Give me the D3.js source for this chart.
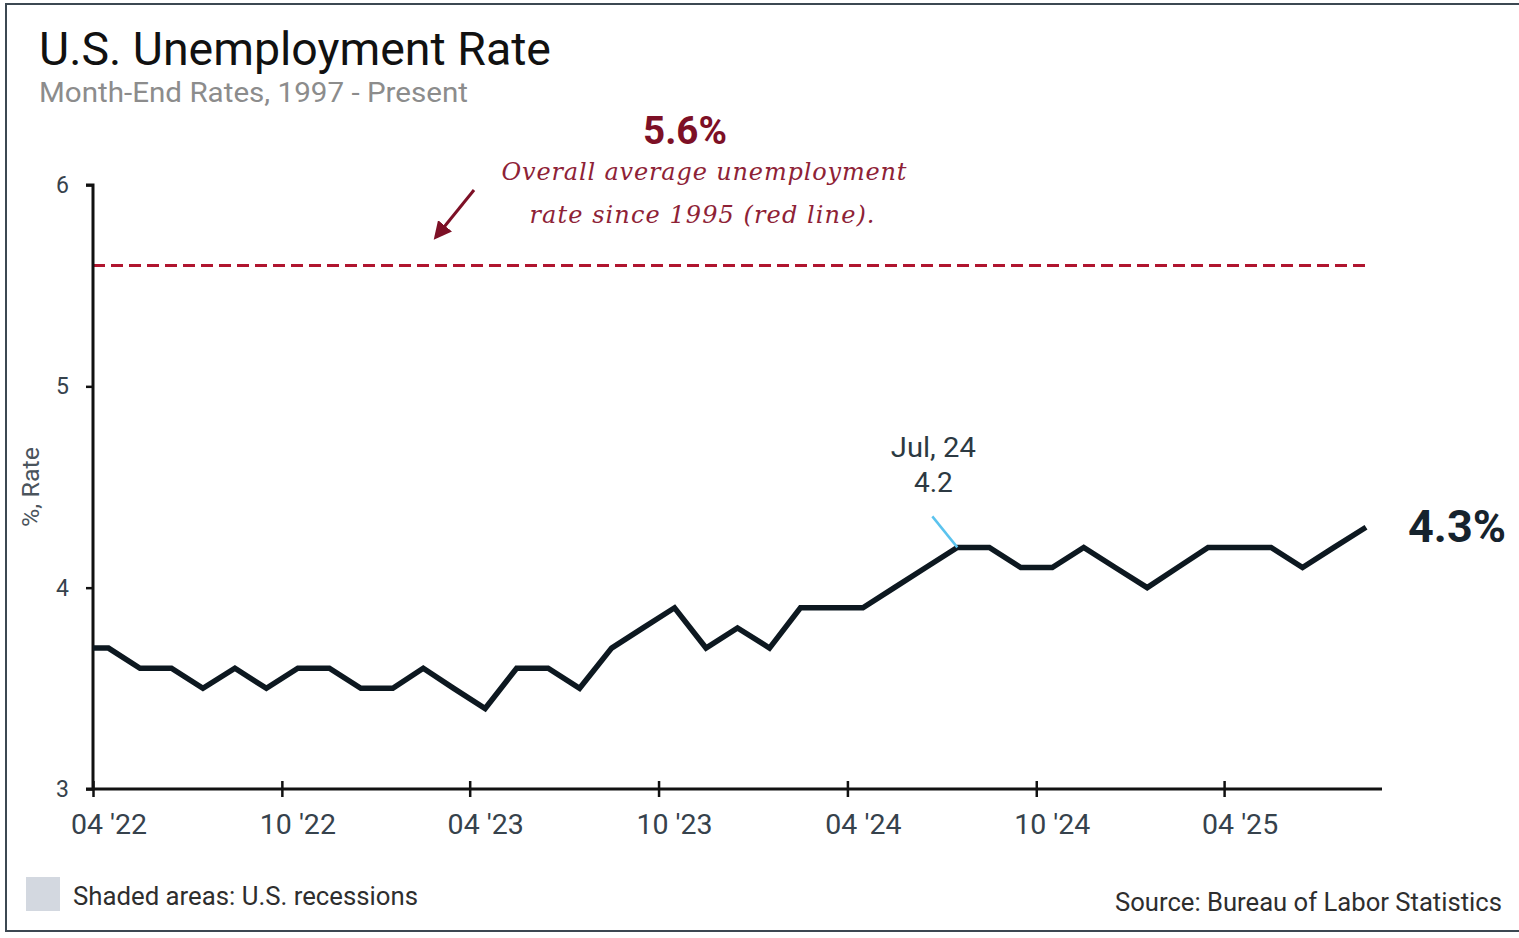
<!DOCTYPE html>
<html>
<head>
<meta charset="utf-8">
<script src="https://cdn.jsdelivr.net/npm/d3@7/dist/d3.min.js"></script>
<style>
  html, body { margin: 0; padding: 0; background: #fff; }
  svg { display: block; font-family: Roboto, "Noto Sans", sans-serif; }
</style>
</head>
<body>
<svg id="chart" width="1519" height="938"></svg>
<script>
// Monthly unemployment rate (%), Mar 2022 - Aug 2025
const months = [
  "2022-03","2022-04","2022-05","2022-06","2022-07","2022-08","2022-09","2022-10","2022-11","2022-12",
  "2023-01","2023-02","2023-03","2023-04","2023-05","2023-06","2023-07","2023-08","2023-09","2023-10","2023-11","2023-12",
  "2024-01","2024-02","2024-03","2024-04","2024-05","2024-06","2024-07","2024-08","2024-09","2024-10","2024-11","2024-12",
  "2025-01","2025-02","2025-03","2025-04","2025-05","2025-06","2025-07","2025-08"
];
const rates = [
  3.7, 3.7, 3.6, 3.6, 3.5, 3.6, 3.5, 3.6, 3.6, 3.5,
  3.5, 3.6, 3.5, 3.4, 3.6, 3.6, 3.5, 3.7, 3.8, 3.9, 3.7, 3.8,
  3.7, 3.9, 3.9, 3.9, 4.0, 4.1, 4.2, 4.2, 4.1, 4.1, 4.2, 4.1,
  4.0, 4.1, 4.2, 4.2, 4.2, 4.1, 4.2, 4.3
];
const longRunAverage = 5.6;
const yTicks = [3, 4, 5, 6];
const xTickMonths = ["2022-04","2022-10","2023-04","2023-10","2024-04","2024-10","2025-04"];
const highlightMonth = "2024-07";
const axisStart = "2022-04";
const axisEnd = "2025-09";

const parseMonth = d3.utcParse("%Y-%m");
const midMonth = m => {
  const s = parseMonth(m), e = d3.utcMonth.offset(s, 1);
  return new Date((+s + +e) / 2);
};
const data = months.map((m, i) => ({ month: m, date: midMonth(m), value: rates[i] }));

const svg = d3.select("#chart");

// outer frame
svg.append("rect")
  .attr("x", 6).attr("y", 4).attr("width", 1530).attr("height", 927)
  .attr("fill", "none").attr("stroke", "#3c4852").attr("stroke-width", 2);

const plotL = 93, plotR = 1382, plotT = 185, plotB = 789;
const x = d3.scaleUtc().domain([parseMonth(axisStart), parseMonth(axisEnd)]).range([plotL, plotR]);
const y = d3.scaleLinear().domain([3, 6]).range([plotB, plotT]);

// titles
svg.append("text").attr("x", 39).attr("y", 65)
  .attr("font-size", 47).attr("fill", "#111")
  .attr("textLength", 512).attr("lengthAdjust", "spacingAndGlyphs")
  .text("U.S. Unemployment Rate");
svg.append("text").attr("x", 39).attr("y", 102)
  .attr("font-size", 27).attr("fill", "#8c8c8c")
  .attr("textLength", 429).attr("lengthAdjust", "spacingAndGlyphs")
  .text("Month-End Rates, 1997 - Present");

// clip for series
svg.append("clipPath").attr("id", "plot")
  .append("rect").attr("x", plotL).attr("y", plotT - 20).attr("width", plotR - plotL).attr("height", plotB - plotT + 20);

// average reference line
svg.append("line")
  .attr("x1", plotL).attr("x2", x(data[data.length - 1].date))
  .attr("y1", y(longRunAverage)).attr("y2", y(longRunAverage))
  .attr("stroke", "#b0152f").attr("stroke-width", 3)
  .attr("stroke-dasharray", "12,6");

// y axis
const yAxis = d3.axisLeft(y).tickValues(yTicks).tickSize(7).tickPadding(17).tickFormat(d3.format("d"));
const gy = svg.append("g").attr("transform", `translate(${plotL},0)`).call(yAxis);
gy.select(".domain").attr("stroke", "#111").attr("stroke-width", 3).attr("d", `M-7,${plotT}H0V${plotB}`);
gy.selectAll(".tick line").attr("stroke", "#111").attr("stroke-width", 2.5);
gy.selectAll(".tick text").attr("font-size", 23).attr("fill", "#36424c").attr("font-family", "Roboto");

// x axis
const halfMonth = x(midMonth(axisStart)) - x(parseMonth(axisStart));
const xAxis = d3.axisBottom(x).tickValues(xTickMonths.map(parseMonth)).tickSize(8).tickPadding(17)
  .tickFormat(d3.utcFormat("%m '%y"));
const gx = svg.append("g").attr("transform", `translate(0,${plotB})`).call(xAxis);
gx.select(".domain").attr("stroke", "#111").attr("stroke-width", 3).attr("d", `M${plotL - 7},0H${plotR}`);
gx.selectAll(".tick line").attr("stroke", "#111").attr("stroke-width", 2.5).attr("y1", -8);
gx.selectAll(".tick text").attr("font-size", 28.5).attr("fill", "#36424c").attr("font-family", "Roboto")
  .attr("x", halfMonth);

// y axis title
svg.append("text")
  .attr("transform", `translate(39,${(plotT + plotB) / 2}) rotate(-90)`)
  .attr("text-anchor", "middle").attr("font-size", 23).attr("fill", "#4a545c")
  .attr("textLength", 80).attr("lengthAdjust", "spacingAndGlyphs")
  .text("%, Rate");

// series line
svg.append("path").datum(data)
  .attr("clip-path", "url(#plot)")
  .attr("fill", "none").attr("stroke", "#0d1820").attr("stroke-width", 5.5)
  .attr("stroke-linejoin", "miter").attr("stroke-linecap", "butt")
  .attr("d", d3.line().x(d => x(d.date)).y(d => y(d.value)));

// highlighted point label
const hp = data.find(d => d.month === highlightMonth);
svg.append("line")
  .attr("x1", x(hp.date) - 25).attr("y1", y(hp.value) - 31)
  .attr("x2", x(hp.date)).attr("y2", y(hp.value))
  .attr("stroke", "#5bc3ee").attr("stroke-width", 2.5);
svg.append("text").attr("x", x(hp.date) - 24).attr("y", y(hp.value) - 90)
  .attr("text-anchor", "middle").attr("font-size", 28).attr("fill", "#2c3942")
  .attr("textLength", 85).attr("lengthAdjust", "spacingAndGlyphs")
  .text(d3.utcFormat("%b, %y")(hp.date));
svg.append("text").attr("x", x(hp.date) - 24).attr("y", y(hp.value) - 55)
  .attr("text-anchor", "middle").attr("font-size", 28).attr("fill", "#2c3942")
  .text(hp.value.toFixed(1));

// latest value label
const last = data[data.length - 1];
svg.append("text").attr("x", 1408).attr("y", y(last.value) + 15)
  .attr("font-size", 45).attr("font-weight", 700).attr("fill", "#16232d")
  .attr("textLength", 98).attr("lengthAdjust", "spacingAndGlyphs")
  .text(last.value.toFixed(1) + "%");

// average annotation
svg.append("text").attr("x", 685).attr("y", 144).attr("text-anchor", "middle")
  .attr("font-size", 38).attr("font-weight", 700).attr("fill", "#7d1026")
  .attr("textLength", 84).attr("lengthAdjust", "spacingAndGlyphs")
  .text(longRunAverage.toFixed(1) + "%");
const note = svg.append("g").attr("font-family", "'DejaVu Serif', serif").attr("font-style", "italic")
  .attr("font-size", 24).attr("fill", "#8e2236").attr("text-anchor", "middle");
note.append("text").attr("x", 704).attr("y", 180).attr("textLength", 405).text("Overall average unemployment");
note.append("text").attr("x", 702).attr("y", 223).attr("textLength", 345).text("rate since 1995 (red line).");

svg.append("defs").append("marker").attr("id", "arrow")
  .attr("viewBox", "0 0 10 10").attr("refX", 8).attr("refY", 5)
  .attr("markerWidth", 6).attr("markerHeight", 6).attr("orient", "auto")
  .append("path").attr("d", "M0,0L10,5L0,10Z").attr("fill", "#7d1026");
svg.append("line").attr("x1", 474).attr("y1", 190).attr("x2", 436).attr("y2", 237)
  .attr("stroke", "#7d1026").attr("stroke-width", 3).attr("marker-end", "url(#arrow)");

// legend and source
svg.append("rect").attr("x", 26).attr("y", 877).attr("width", 34).attr("height", 34).attr("fill", "#d3d8e0");
svg.append("text").attr("x", 73).attr("y", 905).attr("font-size", 25).attr("fill", "#2e2e2e")
  .attr("textLength", 345).attr("lengthAdjust", "spacingAndGlyphs")
  .text("Shaded areas: U.S. recessions");
svg.append("text").attr("x", 1115).attr("y", 911).attr("font-size", 25).attr("fill", "#2e2e2e")
  .attr("textLength", 387).attr("lengthAdjust", "spacingAndGlyphs")
  .text("Source: Bureau of Labor Statistics");
</script>
</body>
</html>
